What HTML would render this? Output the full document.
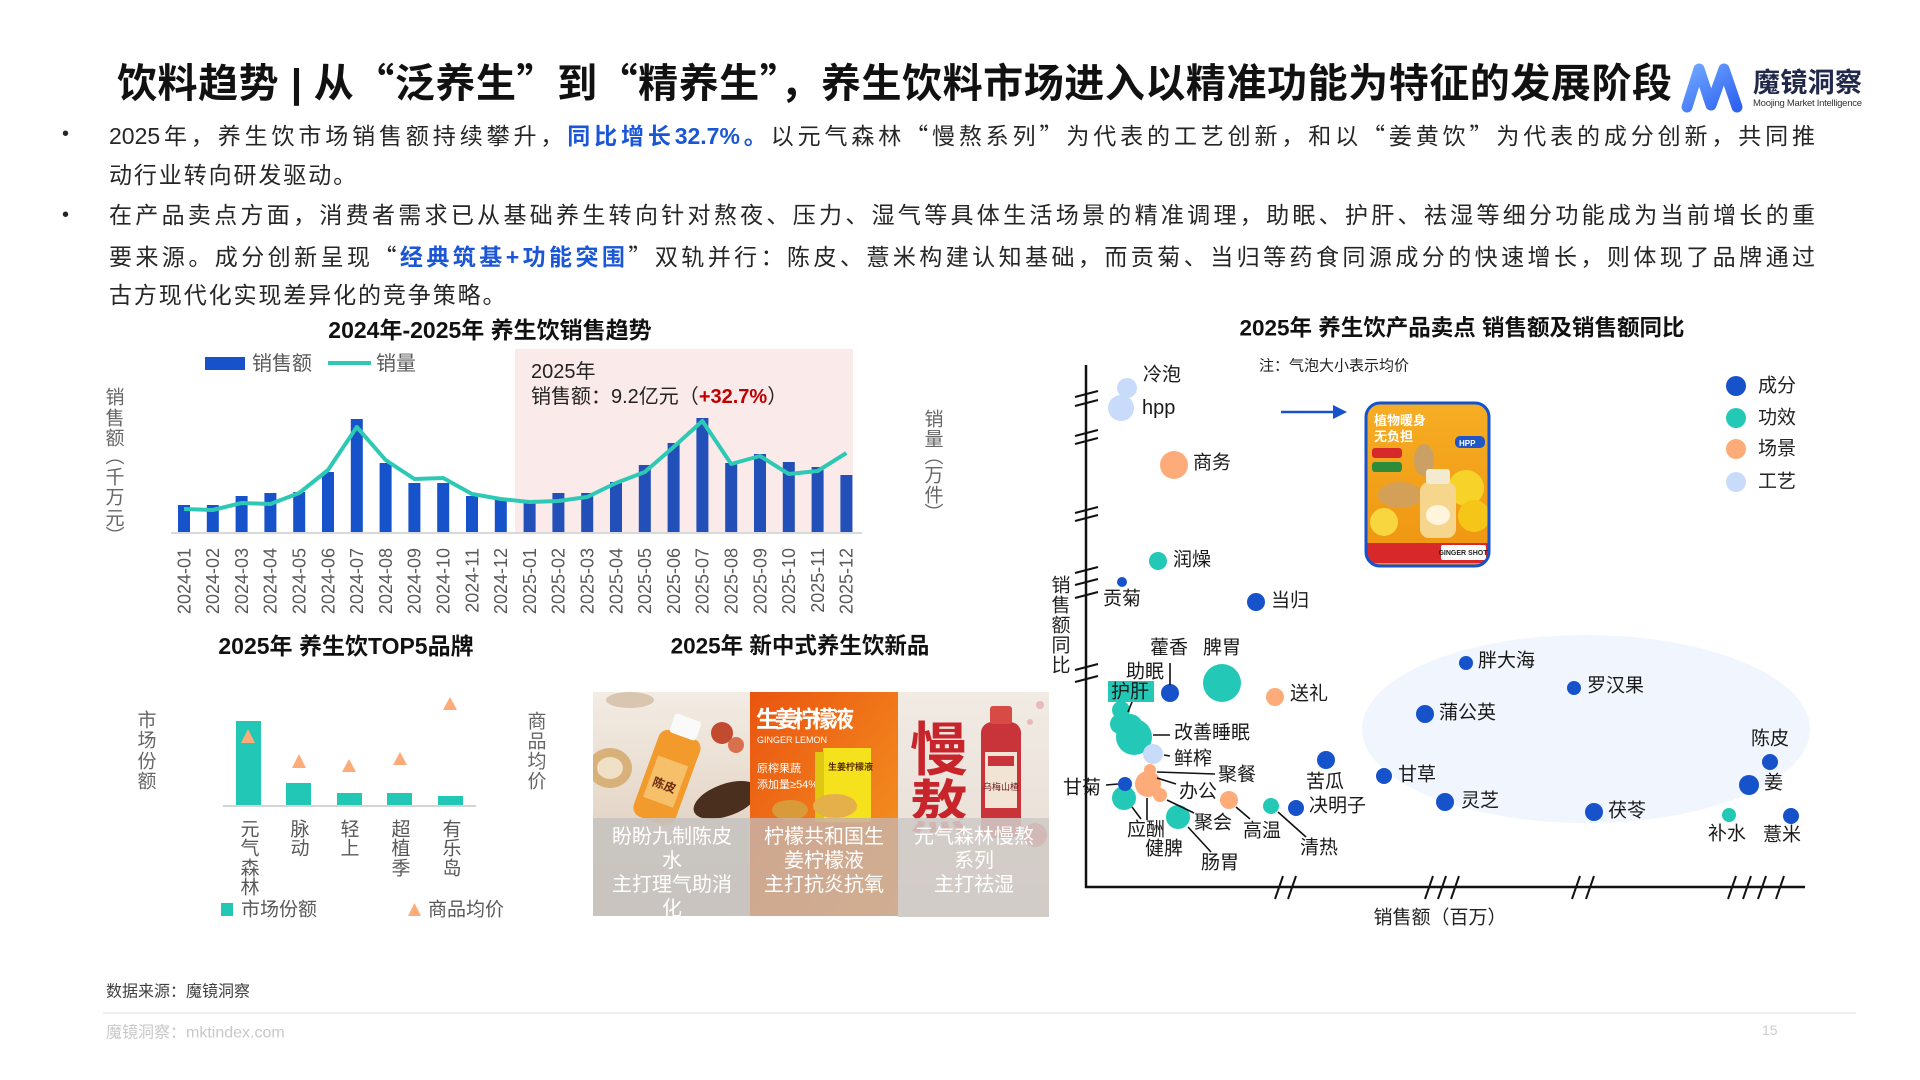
<!DOCTYPE html>
<html><head><meta charset="utf-8">
<style>
html,body{margin:0;padding:0;background:#fff;}
body{width:1920px;height:1080px;position:relative;overflow:hidden;font-family:"Liberation Sans","Noto Sans CJK SC",sans-serif;color:#262626;}
.t{position:absolute;white-space:nowrap;}
.q{font-family:"Noto Sans CJK SC",sans-serif;}
.title{left:117px;top:56px;width:1555px;font-size:40px;font-weight:bold;line-height:48px;text-align:justify;text-align-last:justify;color:#111;}
.ln{position:absolute;left:109px;width:1706px;height:40px;line-height:40px;font-size:23px;color:#262626;white-space:nowrap;}
.j{text-align:justify;text-align-last:justify;}
.s{letter-spacing:1.9px;}
.b{color:#1a56d6;font-weight:bold;}
.bul{position:absolute;left:62px;font-size:20px;line-height:40px;}
</style></head>
<body>
<div class="t title">饮料趋势 | 从<span class="q">“</span>泛养生<span class="q">”</span>到<span class="q">“</span>精养生<span class="q">”</span>，养生饮料市场进入以精准功能为特征的发展阶段</div>

<div class="bul" style="top:114px">•</div>
<div class="bul" style="top:195px">•</div>
<div class="ln j" style="top:114px">2025年，养生饮市场销售额持续攀升，<span class="b">同比增长32.7%。</span>以元气森林<span class="q">“</span>慢熬系列<span class="q">”</span>为代表的工艺创新，和以<span class="q">“</span>姜黄饮<span class="q">”</span>为代表的成分创新，共同推</div>
<div class="ln s" style="top:155px">动行业转向研发驱动。</div>
<div class="ln j" style="top:195px">在产品卖点方面，消费者需求已从基础养生转向针对熬夜、压力、湿气等具体生活场景的精准调理，助眠、护肝、祛湿等细分功能成为当前增长的重</div>
<div class="ln j" style="top:235px">要来源。成分创新呈现<span class="q">“</span><span class="b">经典筑基+功能突围</span><span class="q">”</span>双轨并行：陈皮、薏米构建认知基础，而贡菊、当归等药食同源成分的快速增长，则体现了品牌通过</div>
<div class="ln s" style="top:275px">古方现代化实现差异化的竞争策略。</div>

<svg width="1920" height="1080" viewBox="0 0 1920 1080" style="position:absolute;left:0;top:0" font-family="Liberation Sans, Noto Sans CJK SC, sans-serif">
<defs>
<linearGradient id="lg" x1="0" y1="0" x2="1" y2="1"><stop offset="0" stop-color="#6ea6ff"/><stop offset="1" stop-color="#2f62f0"/></linearGradient>
<linearGradient id="p1" x1="0" y1="0" x2="0" y2="1"><stop offset="0" stop-color="#f3ece4"/><stop offset="1" stop-color="#d9c6b2"/></linearGradient>
<linearGradient id="p2" x1="0" y1="0" x2="1" y2="1"><stop offset="0" stop-color="#ea5410"/><stop offset="1" stop-color="#f59a22"/></linearGradient>
<linearGradient id="p3" x1="0" y1="0" x2="0" y2="1"><stop offset="0" stop-color="#f1ebe4"/><stop offset="1" stop-color="#e6dcd2"/></linearGradient>
<linearGradient id="gs" x1="0" y1="0" x2="0" y2="1"><stop offset="0" stop-color="#f6ad24"/><stop offset="1" stop-color="#ef9410"/></linearGradient>
<clipPath id="c1"><rect x="593" y="692" width="157" height="224"/></clipPath>
<clipPath id="c2"><rect x="750" y="692" width="148" height="224"/></clipPath>
<clipPath id="c3"><rect x="898" y="692" width="151" height="225"/></clipPath>
<clipPath id="cg"><rect x="1366" y="403" width="123" height="163" rx="14"/></clipPath>
</defs>

<!-- logo -->
<polyline points="1687,107 1699,69 1711,105 1724,69 1737,107" fill="none" stroke="url(#lg)" stroke-width="11" stroke-linejoin="round" stroke-linecap="round"/>
<text x="1753" y="92" font-size="27" font-weight="bold" fill="#22284a" textLength="109">魔镜洞察</text>
<text x="1753" y="106" font-size="9.5" fill="#333" textLength="109">Moojing Market Intelligence</text>

<!-- ========== bar chart ========== -->
<text x="490" y="330" font-size="23" font-weight="bold" fill="#111" text-anchor="middle" dominant-baseline="central">2024年-2025年 养生饮销售趋势</text>
<rect x="515" y="349" width="338" height="184" fill="#fbeaea"/>
<rect x="205" y="357" width="40" height="13" fill="#1652c9"/>
<text x="252" y="364" font-size="20" fill="#595959" dominant-baseline="central">销售额</text>
<line x1="328" y1="363" x2="371" y2="363" stroke="#2ec9b4" stroke-width="4"/>
<text x="376" y="364" font-size="20" fill="#595959" dominant-baseline="central">销量</text>
<text x="531" y="372" font-size="20" fill="#222" dominant-baseline="central">2025年</text>
<text x="531" y="397" font-size="20" fill="#222" dominant-baseline="central">销售额：9.2亿元（<tspan fill="#c00000" font-weight="bold">+32.7%</tspan>）</text>

<g fill="#666" font-size="19" text-anchor="middle" dominant-baseline="central">
<text x="115" y="398">销</text><text x="115" y="419">售</text><text x="115" y="439">额</text><text x="115" y="457">︵</text><text x="115" y="478">千</text><text x="115" y="498">万</text><text x="115" y="519">元</text><text x="115" y="537">︶</text>
<text x="934" y="420">销</text><text x="934" y="440">量</text><text x="934" y="457">︵</text><text x="934" y="476">万</text><text x="934" y="496">件</text><text x="934" y="514">︶</text>
</g>

<g fill="#1652c9">
<rect x="178" y="505" width="12" height="27"/>
<rect x="206.8" y="505" width="12" height="27"/>
<rect x="235.6" y="496" width="12" height="36"/>
<rect x="264.4" y="493" width="12" height="39"/>
<rect x="293.2" y="492" width="12" height="40"/>
<rect x="322" y="472" width="12" height="60"/>
<rect x="350.8" y="419" width="12" height="113"/>
<rect x="379.6" y="463" width="12" height="69"/>
<rect x="408.4" y="483" width="12" height="49"/>
<rect x="437.2" y="483" width="12" height="49"/>
<rect x="466" y="496" width="12" height="36"/>
<rect x="494.8" y="500" width="12" height="32"/>
</g>
<g fill="#2350b8">
<rect x="523.6" y="500" width="12" height="32"/>
<rect x="552.4" y="493" width="12" height="39"/>
<rect x="581.2" y="493" width="12" height="39"/>
<rect x="610" y="482" width="12" height="50"/>
<rect x="638.8" y="465" width="12" height="67"/>
<rect x="667.6" y="443" width="12" height="89"/>
<rect x="696.4" y="418" width="12" height="114"/>
<rect x="725.2" y="463" width="12" height="69"/>
<rect x="754" y="454" width="12" height="78"/>
<rect x="782.8" y="462" width="12" height="70"/>
<rect x="811.6" y="467" width="12" height="65"/>
<rect x="840.4" y="475" width="12" height="57"/>
</g>
<line x1="171" y1="533" x2="862" y2="533" stroke="#d9d9d9" stroke-width="2"/>
<polyline fill="none" stroke="#2ec9b4" stroke-width="4" stroke-linejoin="round" points="184,509 212.8,510 241.6,503 270.4,504 299.2,493 328,470 356.8,427 385.6,460 414.4,479 443.2,478 472,494 500.8,499 529.6,502 558.4,501 587.2,497 616,483 644.8,472 673.6,447 702.4,421 731.2,464 760,456 788.8,474 817.6,471 846.4,453"/>

<g font-size="18" fill="#595959" text-anchor="end">
<text transform="translate(184,548) rotate(-90)" dy="0.35em">2024-01</text>
<text transform="translate(212.8,548) rotate(-90)" dy="0.35em">2024-02</text>
<text transform="translate(241.6,548) rotate(-90)" dy="0.35em">2024-03</text>
<text transform="translate(270.4,548) rotate(-90)" dy="0.35em">2024-04</text>
<text transform="translate(299.2,548) rotate(-90)" dy="0.35em">2024-05</text>
<text transform="translate(328,548) rotate(-90)" dy="0.35em">2024-06</text>
<text transform="translate(356.8,548) rotate(-90)" dy="0.35em">2024-07</text>
<text transform="translate(385.6,548) rotate(-90)" dy="0.35em">2024-08</text>
<text transform="translate(414.4,548) rotate(-90)" dy="0.35em">2024-09</text>
<text transform="translate(443.2,548) rotate(-90)" dy="0.35em">2024-10</text>
<text transform="translate(472,548) rotate(-90)" dy="0.35em">2024-11</text>
<text transform="translate(500.8,548) rotate(-90)" dy="0.35em">2024-12</text>
<text transform="translate(529.6,548) rotate(-90)" dy="0.35em">2025-01</text>
<text transform="translate(558.4,548) rotate(-90)" dy="0.35em">2025-02</text>
<text transform="translate(587.2,548) rotate(-90)" dy="0.35em">2025-03</text>
<text transform="translate(616,548) rotate(-90)" dy="0.35em">2025-04</text>
<text transform="translate(644.8,548) rotate(-90)" dy="0.35em">2025-05</text>
<text transform="translate(673.6,548) rotate(-90)" dy="0.35em">2025-06</text>
<text transform="translate(702.4,548) rotate(-90)" dy="0.35em">2025-07</text>
<text transform="translate(731.2,548) rotate(-90)" dy="0.35em">2025-08</text>
<text transform="translate(760,548) rotate(-90)" dy="0.35em">2025-09</text>
<text transform="translate(788.8,548) rotate(-90)" dy="0.35em">2025-10</text>
<text transform="translate(817.6,548) rotate(-90)" dy="0.35em">2025-11</text>
<text transform="translate(846.4,548) rotate(-90)" dy="0.35em">2025-12</text>
</g>

<!-- ========== TOP5 ========== -->
<text x="346" y="646" font-size="23" font-weight="bold" fill="#111" text-anchor="middle" dominant-baseline="central">2025年 养生饮TOP5品牌</text>
<g fill="#666" font-size="19" text-anchor="middle" dominant-baseline="central">
<text x="147" y="721">市</text><text x="147" y="741">场</text><text x="147" y="762">份</text><text x="147" y="782">额</text>
<text x="537" y="722">商</text><text x="537" y="742">品</text><text x="537" y="762">均</text><text x="537" y="782">价</text>
</g>
<g fill="#22c7b5">
<rect x="236" y="721" width="25" height="85"/>
<rect x="286" y="783" width="25" height="23"/>
<rect x="337" y="793" width="25" height="13"/>
<rect x="387" y="793" width="25" height="13"/>
<rect x="438" y="796" width="25" height="10"/>
</g>
<line x1="223" y1="806" x2="476" y2="806" stroke="#d4d4d4" stroke-width="2"/>
<g fill="#fdab78">
<polygon points="248,729 255,743 241,743"/>
<polygon points="299,754 306,768 292,768"/>
<polygon points="349,759 356,772 342,772"/>
<polygon points="400,752 407,765 393,765"/>
<polygon points="450,697 457,710 443,710"/>
</g>
<g fill="#595959" font-size="19" text-anchor="middle" dominant-baseline="central">
<text x="250" y="830">元</text><text x="250" y="849">气</text><text x="250" y="869">森</text><text x="250" y="888">林</text>
<text x="300" y="830">脉</text><text x="300" y="849">动</text>
<text x="350" y="830">轻</text><text x="350" y="849">上</text>
<text x="401" y="830">超</text><text x="401" y="849">植</text><text x="401" y="869">季</text>
<text x="452" y="830">有</text><text x="452" y="849">乐</text><text x="452" y="869">岛</text>
</g>
<rect x="221" y="903" width="12" height="13" fill="#22c7b5"/>
<text x="241" y="910" font-size="19" fill="#595959" dominant-baseline="central">市场份额</text>
<polygon points="414.5,903 421,916 408,916" fill="#fdab78"/>
<text x="428" y="910" font-size="19" fill="#595959" dominant-baseline="central">商品均价</text>

<!-- ========== new products ========== -->
<text x="800" y="646" font-size="22.5" font-weight="bold" fill="#111" text-anchor="middle" dominant-baseline="central">2025年 新中式养生饮新品</text>
<g clip-path="url(#c1)">
<rect x="593" y="692" width="157" height="224" fill="url(#p1)"/>
<ellipse cx="610" cy="768" rx="22" ry="20" fill="#d7b07a"/>
<ellipse cx="610" cy="768" rx="13" ry="11" fill="#efe0c6"/>
<ellipse cx="726" cy="800" rx="34" ry="16" fill="#4a2e1e" transform="rotate(-20 726 800)"/>
<circle cx="722" cy="733" r="11" fill="#c24a2e"/><circle cx="736" cy="745" r="8" fill="#d8704e"/>
<ellipse cx="630" cy="700" rx="24" ry="8" fill="#d8c6b0"/>
<g transform="rotate(20 668 775)">
<rect x="646" y="732" width="44" height="92" rx="10" fill="#f29a2b"/>
<rect x="654" y="714" width="28" height="20" rx="3" fill="#fafafa"/>
<rect x="652" y="760" width="32" height="44" fill="#f6c06a"/>
<text x="668" y="790" font-size="12" font-weight="bold" fill="#6a2b10" text-anchor="middle">陈皮</text>
</g>
<rect x="593" y="818" width="157" height="98" fill="#c6c3c0" fill-opacity="0.9"/>
</g>
<g clip-path="url(#c2)">
<rect x="750" y="692" width="148" height="224" fill="url(#p2)"/>
<text x="756" y="727" font-size="23" font-weight="bold" fill="#fff" textLength="98">生姜柠檬液</text>
<text x="757" y="743" font-size="9" fill="#fff">GINGER LEMON</text>
<text x="757" y="772" font-size="11" fill="#fff">原榨果蔬</text>
<text x="757" y="788" font-size="11" fill="#fff">添加量≥54%</text>
<rect x="823" y="748" width="48" height="74" fill="#f5e11c"/>
<rect x="815" y="752" width="9" height="70" fill="#e0c812"/>
<text x="828" y="770" font-size="9" font-weight="bold" fill="#5a2a00">生姜柠檬液</text>
<ellipse cx="835" cy="806" rx="22" ry="12" fill="#e5b04a"/>
<ellipse cx="790" cy="810" rx="18" ry="10" fill="#d99a3a"/>
<rect x="750" y="818" width="148" height="98" fill="#c9b1a6" fill-opacity="0.85"/>
</g>
<g clip-path="url(#c3)">
<rect x="898" y="692" width="151" height="225" fill="url(#p3)"/>
<circle cx="1040" cy="705" r="4" fill="#e9b8b8"/><circle cx="1030" cy="722" r="3" fill="#e9b8b8"/>
<text x="910" y="770" font-size="58" font-weight="bold" fill="#c8242b">慢</text>
<text x="910" y="828" font-size="58" font-weight="bold" fill="#c8242b">熬</text>
<rect x="981" y="722" width="40" height="116" rx="11" fill="#c8343a"/>
<rect x="990" y="706" width="22" height="18" rx="3" fill="#d84a44"/>
<rect x="985" y="752" width="32" height="56" fill="#f1e4d4"/>
<rect x="988" y="756" width="26" height="10" fill="#c8343a"/>
<text x="1001" y="790" font-size="9" fill="#6a1a1a" text-anchor="middle">乌梅山楂</text>
<circle cx="1035" cy="835" r="12" fill="#d24040"/>
<rect x="898" y="818" width="151" height="99" fill="#cfcac6" fill-opacity="0.88"/>
</g>
<g fill="#fff" font-size="20" text-anchor="middle" dominant-baseline="central">
<text x="672" y="837">盼盼九制陈皮</text><text x="672" y="861">水</text><text x="672" y="885">主打理气助消</text><text x="672" y="909">化</text>
<text x="824" y="837">柠檬共和国生</text><text x="824" y="861">姜柠檬液</text><text x="824" y="885">主打抗炎抗氧</text>
<text x="974" y="837">元气森林慢熬</text><text x="974" y="861">系列</text><text x="974" y="885">主打祛湿</text>
</g>

<!-- ========== scatter ========== -->
<text x="1462" y="328" font-size="22.5" font-weight="bold" fill="#111" text-anchor="middle" dominant-baseline="central">2025年 养生饮产品卖点 销售额及销售额同比</text>
<text x="1259" y="366" font-size="15" fill="#222" dominant-baseline="central">注：气泡大小表示均价</text>
<ellipse cx="1586" cy="729" rx="224" ry="94" fill="#f1f5fd"/>

<g stroke="#111" stroke-width="2.5">
<line x1="1086" y1="365" x2="1086" y2="888"/>
<line x1="1085" y1="887" x2="1805" y2="887"/>
</g>
<g stroke="#111" stroke-width="2">
<line x1="1075" y1="397" x2="1098" y2="391"/><line x1="1075" y1="406" x2="1098" y2="400"/>
<line x1="1075" y1="436" x2="1098" y2="430"/><line x1="1075" y1="444" x2="1098" y2="438"/>
<line x1="1075" y1="513" x2="1098" y2="507"/><line x1="1075" y1="521" x2="1098" y2="515"/>
<line x1="1075" y1="573" x2="1098" y2="567"/><line x1="1075" y1="585" x2="1098" y2="579"/><line x1="1075" y1="598" x2="1098" y2="592"/>
<line x1="1075" y1="670" x2="1098" y2="664"/><line x1="1075" y1="682" x2="1098" y2="676"/>
<line x1="1275" y1="899" x2="1283" y2="876"/><line x1="1288" y1="899" x2="1296" y2="876"/>
<line x1="1425" y1="899" x2="1433" y2="876"/><line x1="1438" y1="899" x2="1446" y2="876"/><line x1="1451" y1="899" x2="1459" y2="876"/>
<line x1="1572" y1="899" x2="1580" y2="876"/><line x1="1586" y1="899" x2="1594" y2="876"/>
<line x1="1728" y1="899" x2="1736" y2="876"/><line x1="1743" y1="899" x2="1751" y2="876"/><line x1="1758" y1="899" x2="1766" y2="876"/><line x1="1776" y1="899" x2="1784" y2="876"/>
</g>
<g fill="#222" font-size="19" text-anchor="middle" dominant-baseline="central">
<text x="1061" y="586">销</text><text x="1061" y="606">售</text><text x="1061" y="626">额</text><text x="1061" y="646">同</text><text x="1061" y="666">比</text>
</g>
<text x="1440" y="918" font-size="19" fill="#222" text-anchor="middle" dominant-baseline="central">销售额（百万）</text>

<!-- arrow -->
<line x1="1281" y1="412" x2="1336" y2="412" stroke="#1652c9" stroke-width="2.5"/>
<polygon points="1333,405 1347,412 1333,419" fill="#1652c9"/>

<!-- product image -->
<g clip-path="url(#cg)">
<rect x="1366" y="403" width="123" height="163" fill="url(#gs)"/>
<text x="1374" y="425" font-size="13" font-weight="bold" fill="#fff">植物暖身</text>
<text x="1374" y="441" font-size="13" font-weight="bold" fill="#fff">无负担</text>
<rect x="1455" y="436" width="30" height="12" rx="5" fill="#2156c6"/>
<text x="1459" y="446" font-size="8" font-weight="bold" fill="#fff">HPP</text>
<rect x="1372" y="448" width="30" height="10" rx="3" fill="#d62a2a"/>
<rect x="1372" y="462" width="30" height="10" rx="3" fill="#2e8b3a"/>
<ellipse cx="1400" cy="495" rx="22" ry="13" fill="#d4a058"/>
<ellipse cx="1424" cy="460" rx="10" ry="16" fill="#caa065"/>
<circle cx="1466" cy="488" r="18" fill="#f7d32a"/>
<circle cx="1474" cy="516" r="16" fill="#f5c518"/>
<circle cx="1384" cy="522" r="14" fill="#f8d640"/>
<rect x="1420" y="482" width="36" height="56" rx="9" fill="#f6d58c"/>
<rect x="1426" y="469" width="24" height="15" rx="3" fill="#f4ead0"/>
<ellipse cx="1438" cy="515" rx="12" ry="10" fill="#fff4dc"/>
<rect x="1366" y="543" width="123" height="20" fill="#d8282a"/>
<rect x="1441" y="545" width="45" height="15" rx="2" fill="#fff"/>
<text x="1463" y="555" font-size="7" font-weight="bold" fill="#222" text-anchor="middle">GINGER SHOT</text>
</g>
<rect x="1366" y="403" width="123" height="163" rx="14" fill="none" stroke="#1652c9" stroke-width="3"/>

<!-- bubbles -->
<g>
<circle cx="1127" cy="388" r="10" fill="#c9dbfa"/>
<circle cx="1121" cy="408" r="13" fill="#c9dbfa"/>
<circle cx="1174" cy="465" r="14" fill="#fdab78"/>
<circle cx="1158" cy="561" r="9" fill="#23c9b6"/>
<circle cx="1122" cy="582" r="5" fill="#1652c9"/>
<circle cx="1256" cy="602" r="9" fill="#1652c9"/>
<circle cx="1170" cy="693" r="9" fill="#1652c9"/>
<circle cx="1222" cy="683" r="19" fill="#23c9b6"/>
<circle cx="1275" cy="697" r="9" fill="#fdab78"/>
<circle cx="1121" cy="710" r="9" fill="#23c9b6"/>
<circle cx="1120" cy="724" r="10" fill="#23c9b6"/>
<circle cx="1130" cy="727" r="13" fill="#23c9b6"/>
<circle cx="1134" cy="737" r="18" fill="#23c9b6"/>
<circle cx="1153" cy="754" r="10" fill="#c9dbfa"/>
<circle cx="1124" cy="798" r="12" fill="#23c9b6"/>
<circle cx="1125" cy="784" r="7" fill="#1652c9"/>
<circle cx="1150" cy="770" r="6" fill="#fdab78"/>
<circle cx="1148" cy="784" r="13" fill="#fdab78"/>
<circle cx="1160" cy="795" r="7" fill="#fdab78"/>
<circle cx="1178" cy="817" r="12" fill="#23c9b6"/>
<circle cx="1229" cy="800" r="9" fill="#fdab78"/>
<circle cx="1271" cy="806" r="8" fill="#23c9b6"/>
<circle cx="1296" cy="808" r="8" fill="#1652c9"/>
<circle cx="1326" cy="760" r="9" fill="#1652c9"/>
<circle cx="1384" cy="776" r="8" fill="#1652c9"/>
<circle cx="1425" cy="714" r="9" fill="#1652c9"/>
<circle cx="1466" cy="663" r="7" fill="#1652c9"/>
<circle cx="1445" cy="802" r="9" fill="#1652c9"/>
<circle cx="1574" cy="688" r="7" fill="#1652c9"/>
<circle cx="1594" cy="812" r="9" fill="#1652c9"/>
<circle cx="1770" cy="762" r="8" fill="#1652c9"/>
<circle cx="1749" cy="785" r="10" fill="#1652c9"/>
<circle cx="1729" cy="815" r="7" fill="#23c9b6"/>
<circle cx="1791" cy="816" r="8" fill="#1652c9"/>
</g>
<g stroke="#111" stroke-width="1.6">
<line x1="1170" y1="663" x2="1170" y2="685"/>
<line x1="1132" y1="702" x2="1128" y2="712"/>
<line x1="1153" y1="735" x2="1170" y2="735"/>
<line x1="1164" y1="755" x2="1170" y2="756"/>
<line x1="1157" y1="772" x2="1215" y2="774"/>
<line x1="1157" y1="778" x2="1176" y2="784"/>
<line x1="1106" y1="785" x2="1118" y2="784"/>
<line x1="1147" y1="798" x2="1147" y2="820"/>
<line x1="1132" y1="807" x2="1141" y2="819"/>
<line x1="1167" y1="800" x2="1194" y2="813"/>
<line x1="1188" y1="827" x2="1211" y2="852"/>
<line x1="1236" y1="807" x2="1250" y2="819"/>
<line x1="1278" y1="812" x2="1306" y2="837"/>
</g>
<rect x="1108" y="681" width="46" height="21" fill="#23c9b6"/>
<g fill="#1a1a1a" font-size="19" dominant-baseline="central">
<text x="1143" y="375">冷泡</text>
<text x="1142" y="408" font-size="20">hpp</text>
<text x="1193" y="463">商务</text>
<text x="1173" y="560">润燥</text>
<text x="1103" y="599">贡菊</text>
<text x="1271" y="601">当归</text>
<text x="1150" y="648">藿香</text>
<text x="1203" y="648">脾胃</text>
<text x="1126" y="672">助眠</text>
<text x="1111" y="692">护肝</text>
<text x="1290" y="694">送礼</text>
<text x="1174" y="733">改善睡眠</text>
<text x="1174" y="759">鲜榨</text>
<text x="1218" y="775">聚餐</text>
<text x="1179" y="792">办公</text>
<text x="1063" y="788">甘菊</text>
<text x="1127" y="830">应酬</text>
<text x="1145" y="849">健脾</text>
<text x="1194" y="823">聚会</text>
<text x="1201" y="863">肠胃</text>
<text x="1243" y="831">高温</text>
<text x="1300" y="848">清热</text>
<text x="1309" y="806">决明子</text>
<text x="1306" y="782">苦瓜</text>
<text x="1398" y="775">甘草</text>
<text x="1439" y="713">蒲公英</text>
<text x="1478" y="661">胖大海</text>
<text x="1461" y="801">灵芝</text>
<text x="1587" y="686">罗汉果</text>
<text x="1608" y="811">茯苓</text>
<text x="1751" y="739">陈皮</text>
<text x="1764" y="783">姜</text>
<text x="1708" y="834">补水</text>
<text x="1763" y="835">薏米</text>
</g>

<!-- legend -->
<circle cx="1736" cy="386" r="10" fill="#1652c9"/>
<circle cx="1736" cy="418" r="10" fill="#23c9b6"/>
<circle cx="1736" cy="449" r="10" fill="#fdab78"/>
<circle cx="1736" cy="482" r="10" fill="#c9dbfa"/>
<g fill="#222" font-size="19" dominant-baseline="central">
<text x="1758" y="386">成分</text>
<text x="1758" y="418">功效</text>
<text x="1758" y="449">场景</text>
<text x="1758" y="482">工艺</text>
</g>

<!-- footer -->
<text x="106" y="992" font-size="16" fill="#404040" dominant-baseline="central">数据来源：魔镜洞察</text>
<line x1="103" y1="1013" x2="1856" y2="1013" stroke="#eeeeee" stroke-width="2"/>
<text x="106" y="1033" font-size="16" fill="#c8c8c8" dominant-baseline="central">魔镜洞察：mktindex.com</text>
<text x="1762" y="1030" font-size="14" fill="#cccccc" dominant-baseline="central">15</text>
</svg>
</body></html>
